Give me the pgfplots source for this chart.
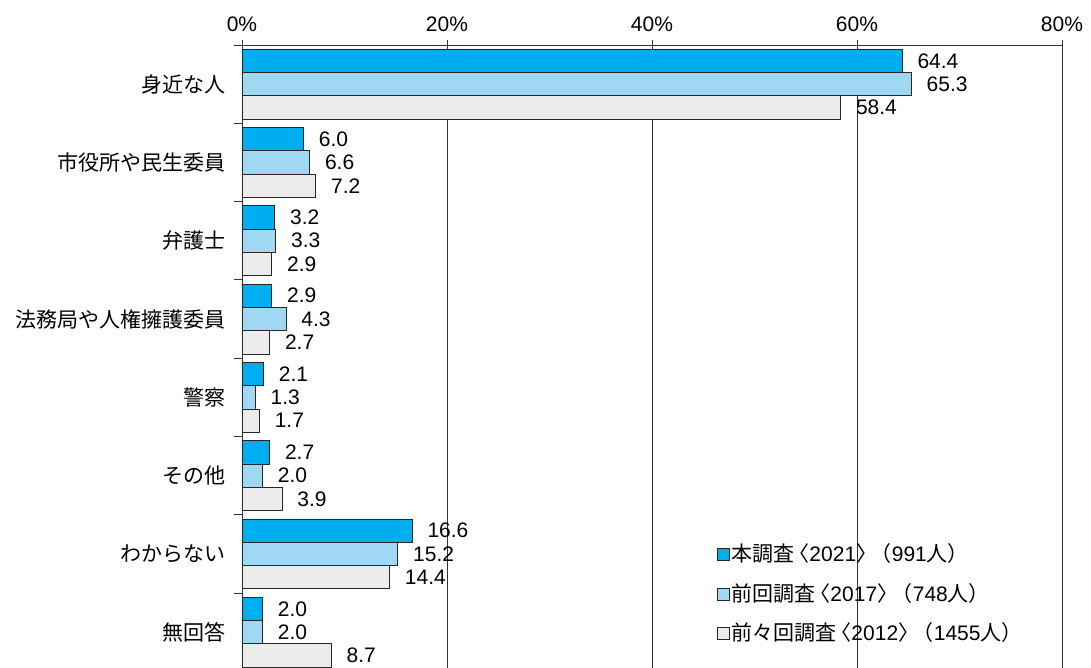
\documentclass[border=0pt]{standalone}
\usepackage{fontspec}
\setmainfont{Liberation Sans}
\newfontfamily\cjk{Noto Sans CJK JP}
\usepackage{pgfplots}
\pgfplotsset{compat=1.18}
\definecolor{c1}{HTML}{00AEEF}
\definecolor{c2}{HTML}{A0D8F4}
\definecolor{c3}{HTML}{ECECEC}
\definecolor{edge}{HTML}{262626}
\definecolor{gridc}{HTML}{333333}
\begin{document}
\begin{tikzpicture}[font=\fontsize{21}{25}\selectfont]
\begin{axis}[
  scale only axis, width=820pt, height=626.4pt,
  xmin=0, xmax=80, ymin=-0.5, ymax=7.5,
  xbar, bar width=23.3pt,
  xtick={0,20,40,60,80},
  xticklabels={0\%,20\%,40\%,60\%,80\%},
  xtick pos=upper, xticklabel pos=upper,
  xticklabel style={yshift=5pt},
  xmajorgrids, major x grid style={gridc, line width=0.8pt},
  ytick={0,...,7},
  yticklabels={無回答,わからない,その他,警察,法務局や人権擁護委員,弁護士,市役所や民生委員,身近な人},
  yticklabel style={font=\cjk\fontsize{21}{25}\selectfont, xshift=-8pt},
  minor ytick={-0.5,0.5,...,7.5},
  ytick pos=left,
  tick align=outside,
  major tick length=5pt, minor tick length=8pt,
  tick style={gridc, line width=0.8pt},
  major y tick style={draw=none},
  axis line style={gridc, line width=0.8pt},
  point meta=x,
  nodes near coords={\pgfmathprintnumber[fixed,fixed zerofill,precision=1,assume math mode=true]{\pgfplotspointmeta}},
  nodes near coords align=horizontal,
  every node near coord/.append style={anchor=west, inner sep=0pt, xshift=15pt, text=black, font=\fontsize{21}{25}\selectfont},
  legend style={at={(rel axis cs:0.579,0.204)}, anchor=north west, draw=none, fill=none, inner sep=0pt, row sep=18pt, font=\fontsize{21}{25}\selectfont,
    cells={anchor=west, inner sep=2pt, text height=16pt, text depth=5pt}},
  legend image code/.code={\draw[#1, line width=0.8pt] (0pt,-6pt) rectangle (12pt,6pt);},
]
\addplot[fill=c1, draw=edge, line width=0.8pt, bar shift=23.3pt] coordinates {
  (64.4,7) (6.0,6) (3.2,5) (2.9,4) (2.1,3) (2.7,2) (16.6,1) (2.0,0)};
\addlegendentry{\cjk 本調査\kern-.3em〈{\rmfamily 2021}〉\kern-.3em（{\rmfamily 991}人）}
\addplot[fill=c2, draw=edge, line width=0.8pt, bar shift=0pt] coordinates {
  (65.3,7) (6.6,6) (3.3,5) (4.3,4) (1.3,3) (2.0,2) (15.2,1) (2.0,0)};
\addlegendentry{\cjk 前回調査\kern-.3em〈{\rmfamily 2017}〉\kern-.3em（{\rmfamily 748}人）}
\addplot[fill=c3, draw=edge, line width=0.8pt, bar shift=-23.3pt] coordinates {
  (58.4,7) (7.2,6) (2.9,5) (2.7,4) (1.7,3) (3.9,2) (14.4,1) (8.7,0)};
\addlegendentry{\cjk 前々回調査\kern-.3em〈{\rmfamily 2012}〉\kern-.3em（{\rmfamily 1455}人）}
\coordinate (tl) at (rel axis cs:0,1);
\end{axis}
\pgfresetboundingbox
\path ([shift={(-242pt,45pt)}]tl) rectangle ++(1091pt,-668pt);
\end{tikzpicture}
\end{document}
